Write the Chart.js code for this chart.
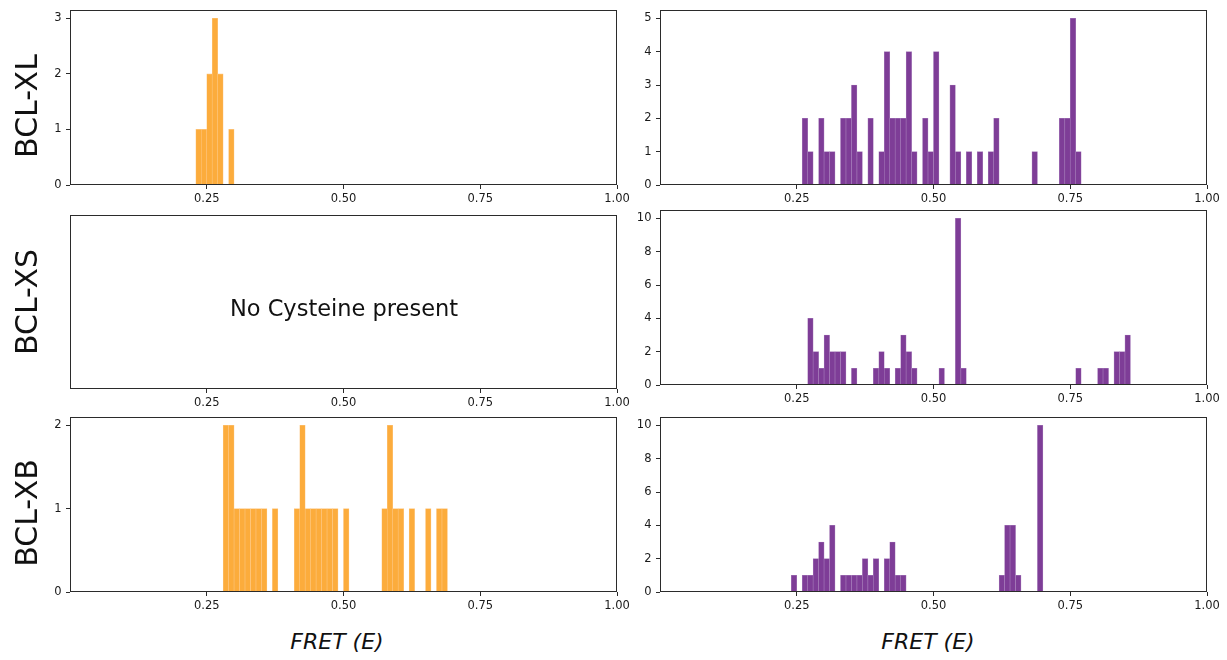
<!DOCTYPE html>
<html>
<head>
<meta charset="utf-8">
<script src="https://cdn.jsdelivr.net/npm/chart.js@4.4.1/dist/chart.umd.min.js"></script>
<style>
html,body{margin:0;padding:0;background:#fff;}
body{width:1227px;height:660px;position:relative;overflow:hidden;font-family:"DejaVu Sans",sans-serif;}
.panel{position:absolute;}
.rowlab{position:absolute;font-size:30px;line-height:1;white-space:nowrap;transform:translate(-50%,-50%) rotate(-90deg);color:#111;}
.xlab{position:absolute;font-size:22px;font-style:italic;line-height:1;white-space:nowrap;transform:translate(-50%,-50%);color:#111;}
.note{position:absolute;font-size:22.5px;line-height:1;white-space:nowrap;transform:translate(-50%,-50%);color:#111;}
</style>
</head>
<body>
<div class="panel" id="p1"><canvas id="c1"></canvas></div>
<div class="panel" id="p2"><canvas id="c2"></canvas></div>
<div class="panel" id="p3"><canvas id="c3"></canvas></div>
<div class="panel" id="p4"><canvas id="c4"></canvas></div>
<div class="panel" id="p5"><canvas id="c5"></canvas></div>
<div class="panel" id="p6"><canvas id="c6"></canvas></div>

<div class="rowlab" style="left:27px;top:106px;">BCL-XL</div>
<div class="rowlab" style="left:27px;top:302px;">BCL-XS</div>
<div class="rowlab" style="left:27px;top:513px;">BCL-XB</div>
<div class="note" style="left:344px;top:308px;">No Cysteine present</div>
<div class="xlab" style="left:337px;top:642px;">FRET (E)</div>
<div class="xlab" style="left:928px;top:642px;">FRET (E)</div>

<script>
// ---- data (bin left edges, FRET E) and counts ----
const binWidth = 0.01;
const xTicks = [0.25, 0.5, 0.75, 1.0];

const xlOrangeBins   = [0.23, 0.24, 0.25, 0.26, 0.27, 0.29];
const xlOrangeCounts = [1, 1, 2, 3, 2, 1];
const xlOrangeYTicks = [0, 1, 2, 3];

const xlPurpleBins   = [0.26, 0.27, 0.29, 0.30, 0.31, 0.33, 0.34, 0.35, 0.36, 0.38, 0.40, 0.41, 0.42, 0.43, 0.44, 0.45, 0.46, 0.48, 0.49, 0.50, 0.53, 0.54, 0.56, 0.58, 0.60, 0.61, 0.68, 0.73, 0.74, 0.75, 0.76];
const xlPurpleCounts = [2, 1, 2, 1, 1, 2, 2, 3, 1, 2, 1, 4, 2, 2, 2, 4, 1, 2, 1, 4, 3, 1, 1, 1, 1, 2, 1, 2, 2, 5, 1];
const xlPurpleYTicks = [0, 1, 2, 3, 4, 5];

const xsPurpleBins   = [0.27, 0.28, 0.29, 0.30, 0.31, 0.32, 0.33, 0.35, 0.39, 0.40, 0.41, 0.43, 0.44, 0.45, 0.46, 0.51, 0.54, 0.55, 0.76, 0.80, 0.81, 0.83, 0.84, 0.85];
const xsPurpleCounts = [4, 2, 1, 3, 2, 2, 2, 1, 1, 2, 1, 1, 3, 2, 1, 1, 10, 1, 1, 1, 1, 2, 2, 3];
const xsPurpleYTicks = [0, 2, 4, 6, 8, 10];

const xbOrangeBins   = [0.28, 0.29, 0.30, 0.31, 0.32, 0.33, 0.34, 0.35, 0.37, 0.41, 0.42, 0.43, 0.44, 0.45, 0.46, 0.47, 0.48, 0.50, 0.57, 0.58, 0.59, 0.60, 0.62, 0.65, 0.67, 0.68];
const xbOrangeCounts = [2, 2, 1, 1, 1, 1, 1, 1, 1, 1, 2, 1, 1, 1, 1, 1, 1, 1, 1, 2, 1, 1, 1, 1, 1, 1];
const xbOrangeYTicks = [0, 1, 2];

const xbPurpleBins   = [0.24, 0.26, 0.27, 0.28, 0.29, 0.30, 0.31, 0.33, 0.34, 0.35, 0.36, 0.37, 0.38, 0.39, 0.41, 0.42, 0.43, 0.44, 0.62, 0.63, 0.64, 0.65, 0.69];
const xbPurpleCounts = [1, 1, 1, 2, 3, 2, 4, 1, 1, 1, 1, 2, 1, 2, 2, 3, 1, 1, 1, 4, 4, 1, 10];
const xbPurpleYTicks = [0, 2, 4, 6, 8, 10];

const ORANGE = '#FCAC3C', ORANGE_EDGE = '#FDC680';
const PURPLE = '#7E3D97', PURPLE_EDGE = '#A77EBB';
const AXIS = '#2b2b2b', TICKTXT = '#1a1a1a';

// ---- panel layout ----
const LEFT = {left: 0, width: 630, yWidth: 70, padRight: 13};
const RIGHT = {left: 630, width: 597, yWidth: 30, padRight: 20};

const panels = [
  {id: 1, col: LEFT,  top: 10,  bottom: 185, bins: xlOrangeBins, counts: xlOrangeCounts, color: ORANGE, edge: ORANGE_EDGE, yTicks: xlOrangeYTicks},
  {id: 2, col: RIGHT, top: 10,  bottom: 185, bins: xlPurpleBins, counts: xlPurpleCounts, color: PURPLE, edge: PURPLE_EDGE, yTicks: xlPurpleYTicks},
  {id: 3, col: LEFT,  top: 215, bottom: 389, bins: null, counts: null, yTicks: null},
  {id: 4, col: RIGHT, top: 210, bottom: 385, bins: xsPurpleBins, counts: xsPurpleCounts, color: PURPLE, edge: PURPLE_EDGE, yTicks: xsPurpleYTicks},
  {id: 5, col: LEFT,  top: 417, bottom: 592, bins: xbOrangeBins, counts: xbOrangeCounts, color: ORANGE, edge: ORANGE_EDGE, yTicks: xbOrangeYTicks},
  {id: 6, col: RIGHT, top: 417, bottom: 592, bins: xbPurpleBins, counts: xbPurpleCounts, color: PURPLE, edge: PURPLE_EDGE, yTicks: xbPurpleYTicks}
];

const framePlugin = {
  id: 'frame',
  afterDatasetsDraw(chart) {
    const a = chart.chartArea, ctx = chart.ctx;
    ctx.save();
    ctx.strokeStyle = AXIS;
    ctx.lineWidth = 1;
    ctx.strokeRect(a.left + 0.5, a.top + 0.5, a.right - a.left - 1, a.bottom - a.top - 1);
    ctx.restore();
  }
};

const FONT = {family: '"DejaVu Sans", sans-serif', size: 11.5};
const PADTOP = 10, XAXISH = 24;

panels.forEach(p => {
  const div = document.getElementById('p' + p.id);
  const canvasTop = p.top - PADTOP;
  const h = (p.bottom - p.top) + PADTOP + XAXISH;
  div.style.left = p.col.left + 'px';
  div.style.top = canvasTop + 'px';
  div.style.width = p.col.width + 'px';
  div.style.height = h + 'px';

  const hasData = !!p.bins;
  const data = hasData ? p.bins.map((b, i) => ({x: b + binWidth / 2, y: p.counts[i]})) : [];
  const yMax = hasData ? Math.max(...p.counts) * 1.05 : 1;

  new Chart(document.getElementById('c' + p.id), {
    type: 'bar',
    data: {
      datasets: hasData ? [{
        data: data,
        backgroundColor: p.color,
        borderColor: p.edge,
        borderWidth: 0.6,
        borderSkipped: 'start',
        barPercentage: 1.0,
        categoryPercentage: 1.0
      }] : []
    },
    options: {
      responsive: true,
      maintainAspectRatio: false,
      animation: false,
      devicePixelRatio: 1,
      layout: {padding: {left: 0, top: PADTOP, right: p.col.padRight, bottom: 0}},
      plugins: {legend: {display: false}, tooltip: {enabled: false}},
      scales: {
        x: {
          type: 'linear',
          min: 0, max: 1,
          offset: false,
          grid: {display: true, offset: false, drawOnChartArea: false, drawTicks: true, tickLength: 4, tickColor: AXIS, tickWidth: 1},
          border: {display: false},
          afterBuildTicks: s => { s.ticks = xTicks.map(v => ({value: v})); },
          afterFit: s => { s.height = XAXISH; s.paddingLeft = 0; s.paddingRight = 0; },
          ticks: {font: FONT, color: TICKTXT, padding: 3, maxRotation: 0, autoSkip: false,
                  callback: v => Number(v).toFixed(2)}
        },
        y: {
          type: 'linear',
          min: 0, max: yMax,
          grid: {display: hasData, drawOnChartArea: false, drawTicks: true, tickLength: 4, tickColor: AXIS, tickWidth: 1},
          border: {display: false},
          afterBuildTicks: s => { s.ticks = hasData ? p.yTicks.map(v => ({value: v})) : []; },
          afterFit: s => { s.width = p.col.yWidth; s.paddingTop = 0; s.paddingBottom = 0; },
          ticks: {display: hasData, font: FONT, color: TICKTXT, padding: 4.5, autoSkip: false,
                  callback: v => String(v)}
        }
      }
    },
    plugins: [framePlugin]
  });
});
</script>
</body>
</html>
